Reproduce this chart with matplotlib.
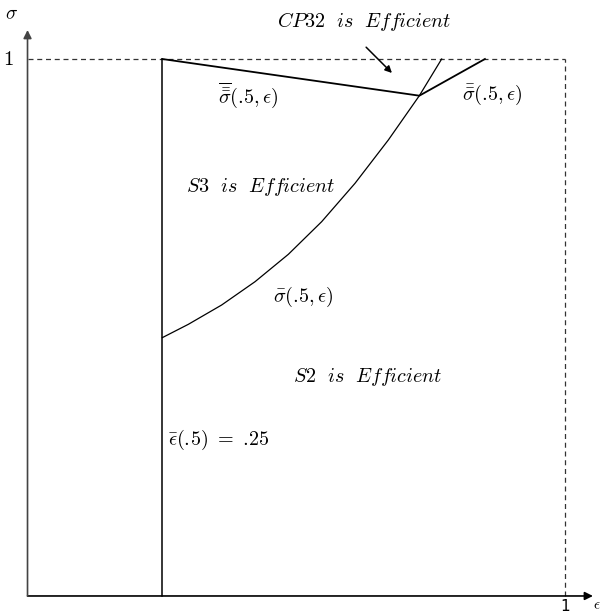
import matplotlib
matplotlib.use("Agg")
import matplotlib.pyplot as plt
import numpy as np

plt.rcParams['mathtext.fontset'] = 'cm'

# Data
eps_bar = 0.25
# sigma_bar(.5, eps) boundary curve
curve_x = [0.2508, 0.2992, 0.3612, 0.4233, 0.4853, 0.5473, 0.6093, 0.6713, 0.7290, 0.7705]
curve_y = [0.4811, 0.5059, 0.5419, 0.5853, 0.6363, 0.6971, 0.7685, 0.8492, 0.9317, 1.000]
# triple-bar sigma line (left) and double-bar sigma line (right)
kink_x = [0.2508, 0.7290, 0.851]
kink_y = [1.000, 0.9317, 1.000]

fig = plt.figure(figsize=(6.03, 6.13), dpi=100)
ax = fig.add_axes([0, 0, 1, 1])
ax.set_xlim(-0.0512, 1.0707)
ax.set_ylim(-0.0317, 1.1099)
ax.axis('off')

# axes arrows
ax.annotate('', xy=(1.052, 0), xytext=(0, 0),
            arrowprops=dict(arrowstyle='-|>', color='black', lw=1.2,
                            mutation_scale=12, shrinkA=0, shrinkB=0))
ax.annotate('', xy=(0, 1.054), xytext=(0, 0),
            arrowprops=dict(arrowstyle='-|>', color='#444444', lw=1.2,
                            mutation_scale=12, shrinkA=0, shrinkB=0))

# dashed box
ax.plot([0, 1], [1, 1], ls=(0, (4, 3)), color='#333333', lw=0.9)
ax.plot([1, 1], [0, 1], ls=(0, (4, 3)), color='#333333', lw=0.9)

# vertical epsilon bar line
ax.plot([eps_bar, eps_bar], [0, 1], color='black', lw=1.1)

# curve
ax.plot(curve_x, curve_y, color='black', lw=0.9, solid_joinstyle='round')
# kinked lines
ax.plot(kink_x, kink_y, color='black', lw=1.3)

# tick labels
ax.text(-0.026, 1.0, r'$1$', ha='right', va='center', fontsize=15)
ax.text(-0.03, 1.085, r'$\sigma$', ha='center', va='center', fontsize=14)
ax.text(1.0, -0.019, '1', ha='center', va='center', fontsize=11)
ax.text(1.06, -0.016, r'$\epsilon$', ha='center', va='center', fontsize=11)

fs = 14.5
ax.text(0.626, 1.069, r'$CP32\ \ is\ \ Efficient$', ha='center', va='center', fontsize=fs)
ax.annotate('', xy=(0.678, 0.974), xytext=(0.630, 1.022),
            arrowprops=dict(arrowstyle='-|>', color='black', lw=1.1,
                            mutation_scale=10, shrinkA=0, shrinkB=0))
ax.text(0.410, 0.933, r'$\overline{\bar{\bar{\sigma}}}(.\!5,\epsilon)$', ha='center', va='center', fontsize=fs)
ax.text(0.865, 0.933, r'$\bar{\bar{\sigma}}(.\!5,\epsilon)$', ha='center', va='center', fontsize=fs)
ax.text(0.434, 0.762, r'$S3\ \ is\ \ Efficient$', ha='center', va='center', fontsize=fs)
ax.text(0.5135, 0.557, r'$\bar{\sigma}(.\!5,\epsilon)$', ha='center', va='center', fontsize=fs)
ax.text(0.634, 0.408, r'$S2\ \ is\ \ Efficient$', ha='center', va='center', fontsize=fs)
ax.text(0.262, 0.290, r'$\bar{\epsilon}(.\!5)\ =\ .\!25$', ha='left', va='center', fontsize=fs)

fig.savefig('out.png', dpi=100)
